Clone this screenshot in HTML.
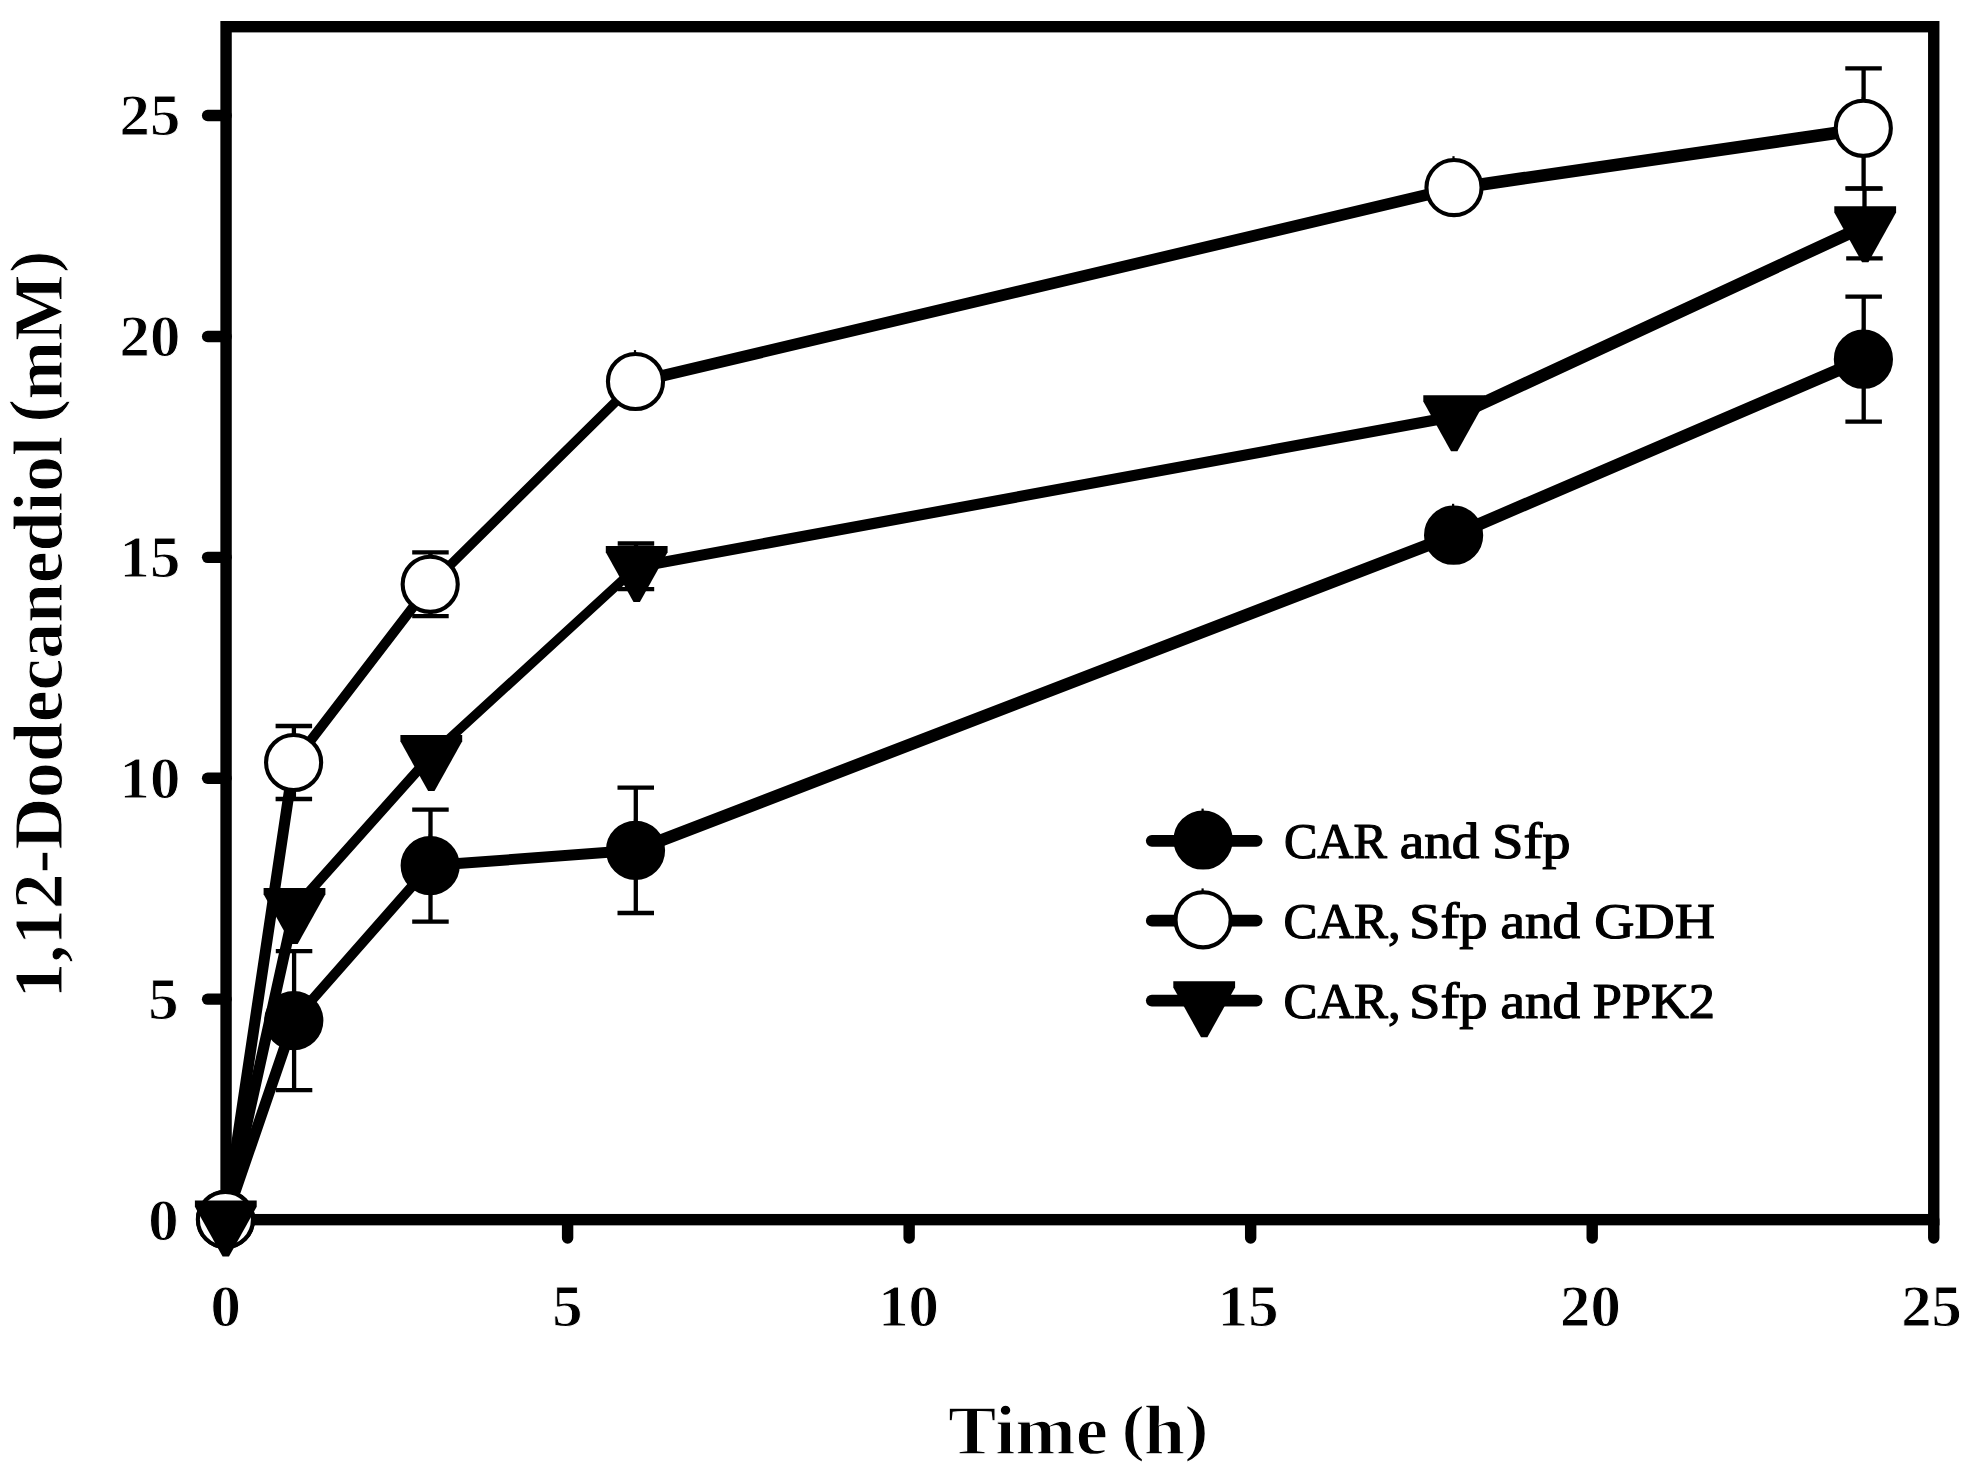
<!DOCTYPE html>
<html lang="en"><head><meta charset="utf-8"><title>1,12-Dodecanediol production</title>
<style>html,body{margin:0;padding:0;background:#fff}body{width:1981px;height:1475px;overflow:hidden}svg{display:block}text{font-family:"Liberation Serif","DejaVu Serif",serif;fill:#000}.s text{stroke:#000;stroke-linejoin:round}.e text{font-weight:bold;stroke:#fff;paint-order:fill stroke}</style></head><body>
<svg width="1981" height="1475" viewBox="0 0 1981 1475">
<rect width="1981" height="1475" fill="#fff"/>
<g fill="none" stroke="#000" stroke-width="11.4">
<rect x="226.07" y="26.70" width="1707.68" height="1192.96" stroke-linejoin="miter"/>
<g stroke-linecap="round">
<line x1="226.07" y1="1220.06" x2="207.60" y2="1220.06"/>
<line x1="226.07" y1="999.16" x2="207.60" y2="999.16"/>
<line x1="226.07" y1="778.26" x2="207.60" y2="778.26"/>
<line x1="226.07" y1="557.36" x2="207.60" y2="557.36"/>
<line x1="226.07" y1="336.46" x2="207.60" y2="336.46"/>
<line x1="226.07" y1="115.56" x2="207.60" y2="115.56"/>
<line x1="226.07" y1="1219.66" x2="226.07" y2="1238.00"/>
<line x1="567.61" y1="1219.66" x2="567.61" y2="1238.00"/>
<line x1="909.14" y1="1219.66" x2="909.14" y2="1238.00"/>
<line x1="1250.67" y1="1219.66" x2="1250.67" y2="1238.00"/>
<line x1="1592.21" y1="1219.66" x2="1592.21" y2="1238.00"/>
<line x1="1933.74" y1="1219.66" x2="1933.74" y2="1238.00"/>
</g></g>
<g fill="none" stroke="#000" stroke-width="4.3">
<path d="M294.1 951.1V1090.1M275.8 951.1H312.3M275.8 1090.1H312.3"/>
<path d="M430.5 809.6V921.6M412.2 809.6H448.7M412.2 921.6H448.7"/>
<path d="M635.8 787.6V913.0M617.5 787.6H654.0M617.5 913.0H654.0"/>
<path d="M1863.7 296.7V421.7M1845.4 296.7H1881.9M1845.4 421.7H1881.9"/>
<path d="M293.9 726.0V799.0M275.6 726.0H312.1M275.6 799.0H312.1"/>
<path d="M430.5 552.4V616.2M412.2 552.4H448.7M412.2 616.2H448.7"/>
<path d="M1863.6 68.3V188.3M1845.3 68.3H1881.8M1845.3 188.3H1881.8"/>
<path d="M636.0 543.5V589.1M617.7 543.5H654.2M617.7 589.1H654.2"/>
<path d="M1864.5 188.6V258.4M1846.2 188.6H1882.7M1846.2 258.4H1882.7"/>
</g>
<g fill="none" stroke="#000" stroke-linecap="round">
<line x1="225.6" y1="1219.5" x2="293.8" y2="1020.6" stroke-width="11.0"/>
<line x1="293.8" y1="1020.6" x2="430.2" y2="865.6" stroke-width="10.0"/>
<line x1="430.2" y1="865.6" x2="635.5" y2="850.3" stroke-width="11.0"/>
<line x1="635.5" y1="850.3" x2="1453.6" y2="535.2" stroke-width="12.3"/>
<line x1="1453.6" y1="535.2" x2="1863.4" y2="359.2" stroke-width="12.4"/>
<line x1="225.4" y1="1219.4" x2="293.6" y2="762.8" stroke-width="11.0"/>
<line x1="293.6" y1="762.8" x2="430.2" y2="584.8" stroke-width="10.0"/>
<line x1="430.2" y1="584.8" x2="635.5" y2="382.1" stroke-width="9.5"/>
<line x1="635.5" y1="382.1" x2="1454.0" y2="188.4" stroke-width="11.6"/>
<line x1="1454.0" y1="188.4" x2="1863.3" y2="129.1" stroke-width="12.6"/>
<line x1="225.8" y1="1219.2" x2="294.5" y2="908.3" stroke-width="11.0"/>
<line x1="294.5" y1="908.3" x2="431.3" y2="755.3" stroke-width="10.0"/>
<line x1="431.3" y1="755.3" x2="636.7" y2="567.1" stroke-width="9.4"/>
<line x1="636.7" y1="567.1" x2="1454.2" y2="416.5" stroke-width="11.1"/>
<line x1="1454.2" y1="416.5" x2="1865.2" y2="225.8" stroke-width="12.4"/>
</g>
<g>
<circle cx="225.6" cy="1219.5" r="27.55" fill="#000" stroke="#000" stroke-width="4.1"/><rect x="224.0" y="1188.1" width="2.2" height="2.6" fill="#000"/>
<circle cx="293.8" cy="1020.6" r="27.55" fill="#000" stroke="#000" stroke-width="4.1"/><rect x="292.2" y="989.2" width="2.2" height="2.6" fill="#000"/>
<circle cx="430.2" cy="865.6" r="27.55" fill="#000" stroke="#000" stroke-width="4.1"/><rect x="428.6" y="834.2" width="2.2" height="2.6" fill="#000"/>
<circle cx="635.5" cy="850.3" r="27.55" fill="#000" stroke="#000" stroke-width="4.1"/><rect x="633.9" y="818.9" width="2.2" height="2.6" fill="#000"/>
<circle cx="1453.6" cy="535.2" r="27.55" fill="#000" stroke="#000" stroke-width="4.1"/><rect x="1452.0" y="503.8" width="2.2" height="2.6" fill="#000"/>
<circle cx="1863.4" cy="359.2" r="27.55" fill="#000" stroke="#000" stroke-width="4.1"/><rect x="1861.8" y="327.8" width="2.2" height="2.6" fill="#000"/>
<circle cx="225.4" cy="1219.4" r="27.55" fill="#fff" stroke="#000" stroke-width="4.1"/><rect x="223.8" y="1188.0" width="2.2" height="2.6" fill="#000"/>
<circle cx="293.6" cy="762.5" r="27.55" fill="#fff" stroke="#000" stroke-width="4.1"/><rect x="292.0" y="731.1" width="2.2" height="2.6" fill="#000"/>
<circle cx="430.2" cy="584.3" r="27.55" fill="#fff" stroke="#000" stroke-width="4.1"/><rect x="428.6" y="552.9" width="2.2" height="2.6" fill="#000"/>
<circle cx="635.5" cy="381.5" r="27.55" fill="#fff" stroke="#000" stroke-width="4.1"/><rect x="633.9" y="350.1" width="2.2" height="2.6" fill="#000"/>
<circle cx="1454.0" cy="187.6" r="27.55" fill="#fff" stroke="#000" stroke-width="4.1"/><rect x="1452.4" y="156.2" width="2.2" height="2.6" fill="#000"/>
<circle cx="1863.3" cy="128.3" r="27.55" fill="#fff" stroke="#000" stroke-width="4.1"/><rect x="1861.7" y="96.9" width="2.2" height="2.6" fill="#000"/>
<polygon points="194.9,1200.5 256.7,1200.5 256.7,1206.7 229.0,1256.5 222.6,1256.5 194.9,1206.7" fill="#000"/>
<polygon points="263.6,888.1 325.4,888.1 325.4,894.3 297.7,944.1 291.3,944.1 263.6,894.3" fill="#000"/>
<polygon points="400.4,735.1 462.2,735.1 462.2,741.3 434.5,791.1 428.1,791.1 400.4,741.3" fill="#000"/>
<polygon points="605.8,546.1 667.6,546.1 667.6,552.3 639.9,602.1 633.5,602.1 605.8,552.3" fill="#000"/>
<polygon points="1423.3,395.3 1485.1,395.3 1485.1,401.5 1457.4,451.3 1451.0,451.3 1423.3,401.5" fill="#000"/>
<polygon points="1834.3,206.2 1896.1,206.2 1896.1,212.4 1868.4,262.2 1862.0,262.2 1834.3,212.4" fill="#000"/>
</g>
<g>
<line x1="1151.8" y1="840.8" x2="1256.6" y2="840.8" stroke="#000" stroke-width="11.8" stroke-linecap="round"/>
<line x1="1151.8" y1="920.7" x2="1256.6" y2="920.7" stroke="#000" stroke-width="11.8" stroke-linecap="round"/>
<line x1="1151.8" y1="1000.6" x2="1256.6" y2="1000.6" stroke="#000" stroke-width="11.8" stroke-linecap="round"/>
<circle cx="1203.1" cy="840.0" r="27.55" fill="#000" stroke="#000" stroke-width="4.1"/><rect x="1201.5" y="808.6" width="2.2" height="2.6" fill="#000"/>
<circle cx="1203.1" cy="919.8" r="27.55" fill="#fff" stroke="#000" stroke-width="4.1"/><rect x="1201.5" y="888.4" width="2.2" height="2.6" fill="#000"/>
<polygon points="1173.3,981.2 1235.1,981.2 1235.1,987.4 1207.4,1037.2 1201.0,1037.2 1173.3,987.4" fill="#000"/>
</g>
<g class="s" font-size="50" stroke-width="1.2">
<text><tspan x="1283.90" y="857.80" textLength="103.01" lengthAdjust="spacingAndGlyphs">CAR</tspan> <tspan x="1399.80" y="857.80" textLength="79.63" lengthAdjust="spacingAndGlyphs">and</tspan> <tspan x="1492.01" y="857.80" textLength="78.55" lengthAdjust="spacingAndGlyphs">Sfp</tspan></text>
<text><tspan x="1283.58" y="937.70" textLength="117.06" lengthAdjust="spacingAndGlyphs">CAR,</tspan> <tspan x="1409.00" y="937.70" textLength="78.66" lengthAdjust="spacingAndGlyphs">Sfp</tspan> <tspan x="1500.50" y="937.70" textLength="79.63" lengthAdjust="spacingAndGlyphs">and</tspan> <tspan x="1594.39" y="937.70" textLength="120.59" lengthAdjust="spacingAndGlyphs">GDH</tspan></text>
<text><tspan x="1283.58" y="1017.60" textLength="117.06" lengthAdjust="spacingAndGlyphs">CAR,</tspan> <tspan x="1409.00" y="1017.60" textLength="78.66" lengthAdjust="spacingAndGlyphs">Sfp</tspan> <tspan x="1500.50" y="1017.60" textLength="79.63" lengthAdjust="spacingAndGlyphs">and</tspan> <tspan x="1592.85" y="1017.60" textLength="122.16" lengthAdjust="spacingAndGlyphs">PPK2</tspan></text>
</g>
<g class="e" font-size="60" stroke-width="0.9">
<text transform="translate(148.30 1239.5) scale(1.0111 1)">0</text>
<text transform="translate(148.30 1018.6) scale(1.0111 1)">5</text>
<text transform="translate(119.57 797.7) scale(1.0111 1)">10</text>
<text transform="translate(119.57 576.8) scale(1.0111 1)">15</text>
<text transform="translate(119.57 355.9) scale(1.0111 1)">20</text>
<text transform="translate(119.57 135.0) scale(1.0111 1)">25</text>
<text transform="translate(210.53 1326.0) scale(1.0111 1)">0</text>
<text transform="translate(552.33 1326.0) scale(1.0111 1)">5</text>
<text transform="translate(878.26 1326.0) scale(1.0111 1)">10</text>
<text transform="translate(1217.86 1326.0) scale(1.0111 1)">15</text>
<text transform="translate(1560.07 1326.0) scale(1.0111 1)">20</text>
<text transform="translate(1901.27 1326.0) scale(1.0111 1)">25</text>
</g>
<g class="e" font-size="70" stroke-width="1.3">
<text><tspan x="948.13" y="1454.20" textLength="159.72" lengthAdjust="spacingAndGlyphs">Time</tspan> <tspan x="1121.60" y="1448.79" textLength="23.31" lengthAdjust="spacingAndGlyphs" font-size="63.6">(</tspan><tspan x="1143.87" y="1454.20" textLength="41.39" lengthAdjust="spacingAndGlyphs">h</tspan><tspan x="1184.25" y="1448.79" textLength="24.48" lengthAdjust="spacingAndGlyphs" font-size="63.6">)</tspan></text>
</g>
<g class="e" font-size="70" stroke-width="1.0">
<text transform="translate(61.2 992.5) rotate(-90)"><tspan x="-6.13" y="0.60" textLength="562.55" lengthAdjust="spacingAndGlyphs">1,12-Dodecanediol</tspan> <tspan x="569.82" y="-4.99" textLength="23.75" lengthAdjust="spacingAndGlyphs" font-size="66.7">(</tspan><tspan x="592.79" y="0.60" textLength="125.12" lengthAdjust="spacingAndGlyphs">mM</tspan><tspan x="719.64" y="-5.73" textLength="22.22" lengthAdjust="spacingAndGlyphs" font-size="65.6">)</tspan></text>
</g>
</svg></body></html>
